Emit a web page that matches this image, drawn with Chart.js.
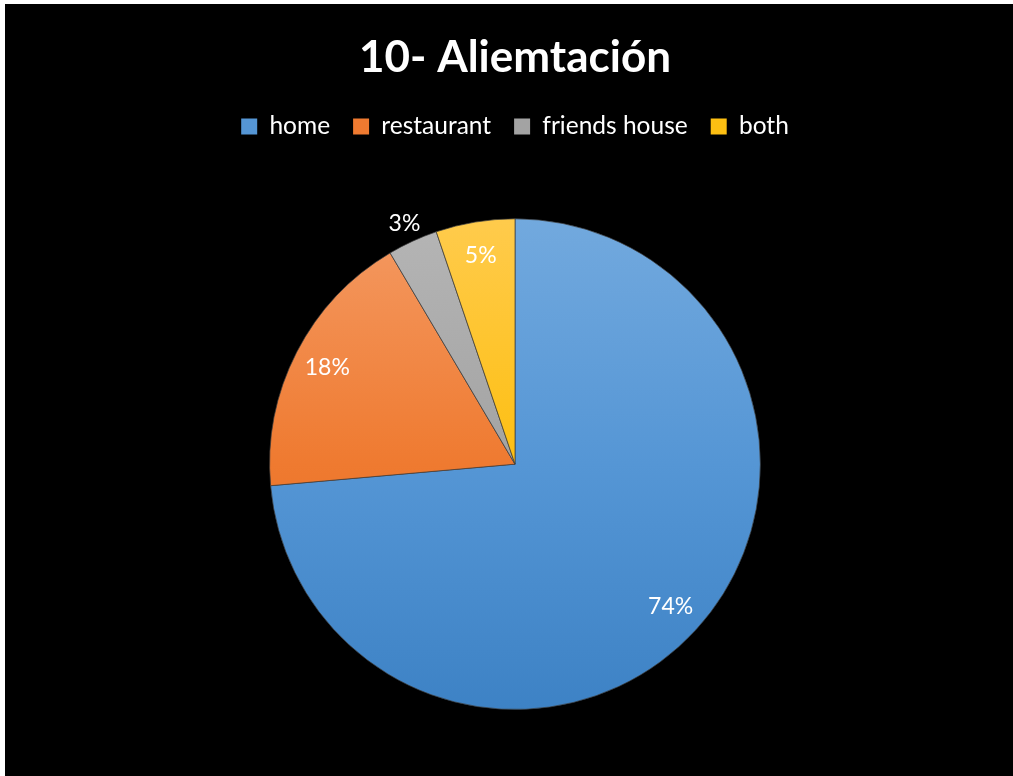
<!DOCTYPE html>
<html>
<head>
<meta charset="utf-8">
<script src="https://cdn.jsdelivr.net/npm/chart.js@4.4.1/dist/chart.umd.min.js"></script>
<style>
    body { margin: 0; background: #ffffff; }
    #wrap { position: absolute; left: 5px; top: 4px; width: 1008px; height: 772px; background: #000000; }
</style>
</head>
<body>
<div id="wrap"><canvas id="pieChart"></canvas></div>
<script>
// Chart data
const chartTitle = '10- Aliemtación';
const categories = ['home', 'restaurant', 'friends house', 'both'];
const shares = [73.6, 17.9, 3.3, 5.2];

// gradient stops per slice: top, middle, bottom
const sliceColors = [
    ['#72a9de', '#5596d5', '#3d82c5'],
    ['#f49a63', '#ef7a30', '#e0661a'],
    ['#b5b5b5', '#a3a3a3', '#8e8e8e'],
    ['#ffcb4c', '#fdbf12', '#eaaf00']
];

document.addEventListener('DOMContentLoaded', function() {
    const ctx = document.getElementById('pieChart');
    const total = shares.reduce((a, b) => a + b, 0);

    // Draw percentage labels on / beside slices
    const sliceLabels = {
        id: 'sliceLabels',
        afterDatasetsDraw(chart) {
            const c = chart.ctx;
            const meta = chart.getDatasetMeta(0);
            c.save();
            c.font = '23px Lato';
            c.fillStyle = '#ffffff';
            c.textAlign = 'center';
            c.textBaseline = 'middle';
            meta.data.forEach((arc, i) => {
                const pct = shares[i] / total * 100;
                const mid = (arc.startAngle + arc.endAngle) / 2;
                const k = pct < 4 ? 1.08 : 0.86;
                const x = arc.x + Math.cos(mid) * arc.outerRadius * k;
                const y = arc.y + Math.sin(mid) * arc.outerRadius * k;
                c.fillText(Math.round(pct) + '%', x, y);
            });
            c.restore();
        }
    };

    new Chart(ctx, {
        type: 'pie',
        data: {
            labels: categories,
            datasets: [{
                data: shares,
                backgroundColor: function(context) {
                    const chart = context.chart;
                    const area = chart.chartArea;
                    const cols = sliceColors[context.dataIndex];
                    if (!area) return cols[1];
                    const g = chart.ctx.createLinearGradient(0, area.top, 0, area.bottom);
                    g.addColorStop(0, cols[0]);
                    g.addColorStop(0.5, cols[1]);
                    g.addColorStop(1, cols[2]);
                    return g;
                },
                borderColor: 'rgba(60,60,60,0.7)',
                borderWidth: 1
            }]
        },
        options: {
            responsive: true,
            maintainAspectRatio: false,
            animation: false,
            layout: {
                padding: { top: 3, bottom: 66, left: 12, right: 0 }
            },
            plugins: {
                title: {
                    display: true,
                    text: chartTitle,
                    color: '#ffffff',
                    font: { family: 'Lato', size: 44, weight: 'bold' },
                    padding: { top: 24, bottom: 7.5 }
                },
                // empty spacer between legend and pie
                subtitle: {
                    display: true,
                    text: '',
                    weight: 500,
                    font: { size: 1, lineHeight: 1 },
                    padding: { top: 0, bottom: 68.5 }
                },
                legend: {
                    position: 'top',
                    labels: {
                        color: '#ffffff',
                        font: { family: 'Lato', size: 24.5 },
                        boxWidth: 16,
                        boxHeight: 16,
                        padding: 23,
                        generateLabels: function(chart) {
                            return categories.map((name, i) => ({
                                text: name,
                                fillStyle: sliceColors[i][1],
                                strokeStyle: sliceColors[i][1],
                                lineWidth: 0,
                                fontColor: '#ffffff',
                                index: i
                            }));
                        }
                    }
                },
                tooltip: { enabled: false }
            }
        },
        plugins: [sliceLabels]
    });
});
</script>
</body>
</html>
